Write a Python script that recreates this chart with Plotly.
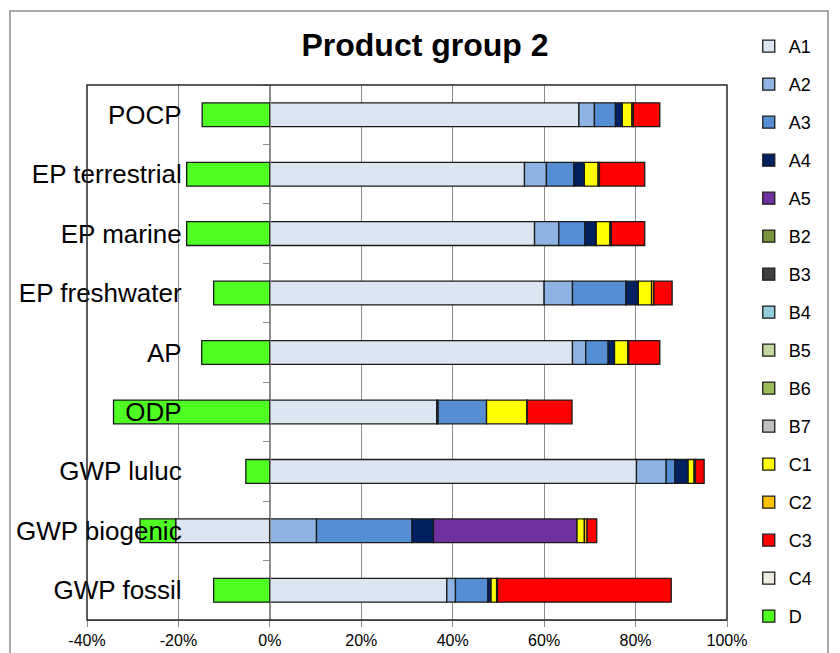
import plotly.graph_objects as go

categories = ["POCP", "EP terrestrial", "EP marine", "EP freshwater", "AP",
              "ODP", "GWP luluc", "GWP biogenic", "GWP fossil"]

A1 = [67.6, 55.7, 57.9, 60.0, 66.2, 36.5, 80.2, -20.6, 38.7]
A2 = [3.4, 4.8, 5.3, 6.2, 2.9, 0.3, 6.5, 10.2, 1.9]
A3 = [4.6, 6.0, 5.7, 11.7, 4.9, 10.6, 1.9, 20.9, 7.1]
A4 = [1.5, 2.3, 2.5, 2.7, 1.4, 0.0, 2.9, 4.7, 0.7]
A5 = [0, 0, 0, 0, 0, 0, 0, 31.4, 0]
B2 = [0, 0, 0, 0, 0, 0, 0, 0, 0]
B3 = [0, 0, 0, 0, 0, 0, 0, 0, 0]
B4 = [0, 0, 0, 0, 0, 0, 0, 0, 0]
B5 = [0, 0, 0, 0, 0, 0, 0, 0, 0]
B6 = [0, 0, 0, 0, 0, 0, 0, 0, 0]
B7 = [0, 0, 0, 0, 0, 0, 0, 0, 0]
C1 = [2.1, 3.0, 3.0, 2.9, 2.9, 8.8, 1.3, 1.6, 1.2]
C2 = [0.3, 0.3, 0.3, 0.5, 0.2, 0.1, 0.3, 0.6, 0.2]
C3 = [5.8, 9.9, 7.3, 4.0, 6.8, 9.8, 1.9, 2.1, 38.0]
C4 = [0, 0, 0, 0, 0, 0, 0, 0, 0]
D = [-14.8, -18.2, -18.2, -12.3, -14.9, -34.2, -5.25, -7.8, -12.3]

series_names = ["A1", "A2", "A3", "A4", "A5", "B2", "B3", "B4", "B5", "B6",
                "B7", "C1", "C2", "C3", "C4", "D"]
series_values = [A1, A2, A3, A4, A5, B2, B3, B4, B5, B6, B7, C1, C2, C3, C4, D]
series_colors = ["#DCE6F2", "#8EB4E3", "#558ED5", "#002060", "#7030A0",
                 "#77933C", "#404040", "#93CDDD", "#C3D69B", "#9BBB59",
                 "#BFBFBF", "#FFFF00", "#FFC000", "#FF0000", "#EEECE1",
                 "#4FFF24"]

x_tick_vals = [-40, -20, 0, 20, 40, 60, 80, 100]
x_tick_text = ["-40%", "-20%", "0%", "20%", "40%", "60%", "80%", "100%"]
x_min, x_max = -40, 100

fig = go.Figure()
for name, vals, col in zip(series_names, series_values, series_colors):
    xv = [v if v != 0 else None for v in vals]
    fig.add_trace(go.Bar(
        y=categories, x=xv, name=name, orientation="h",
        marker=dict(color=col, line=dict(color="#1a1a1a", width=1.3)),
        width=0.4, legendgroup=name,
    ))

FONT = "Liberation Sans, Arial, sans-serif"

# The page adds an 8px body margin, so the figure is laid out 8px smaller.
W, H = 832, 645
L, T = 79, 77
PW, PH = 640, 535

fig.update_layout(
    barmode="relative",
    width=W, height=H,
    margin=dict(l=L, r=W - L - PW, t=T, b=H - T - PH, autoexpand=False),
    paper_bgcolor="white", plot_bgcolor="white",
    font=dict(family=FONT, color="black"),
    title=dict(text="<b>Product group 2</b>", x=417 / W, xref="container", xanchor="center",
               y=1 - 37 / H, yanchor="middle", font=dict(size=32, family=FONT)),
    legend=dict(traceorder="grouped", x=1.034, xanchor="left", y=1.1065, yanchor="top",
                font=dict(size=18, family=FONT), tracegroupgap=11.6,
                bgcolor="rgba(0,0,0,0)", itemwidth=30, maxheight=1.0),
    xaxis=dict(range=[x_min, x_max], tickvals=x_tick_vals, ticktext=x_tick_text,
               showgrid=True, gridcolor="#8c8c8c", gridwidth=1, zeroline=False,
               showline=True, linecolor="#8c8c8c", ticks="outside", ticklen=6,
               tickcolor="#8c8c8c", tickfont=dict(size=16, family=FONT)),
    yaxis=dict(type="category", categoryorder="array", categoryarray=categories,
               autorange="reversed", anchor="free",
               position=(0 - x_min) / (x_max - x_min),
               showline=True, linecolor="#8c8c8c", ticks="outside", ticklen=7,
               tickcolor="#8c8c8c", tickson="boundaries", showgrid=False,
               ticklabelstandoff=83, tickfont=dict(size=26, family=FONT)),
    bargap=0.6,
)

# plot-area frame and outer chart border
fig.add_shape(type="rect", xref="paper", yref="paper", x0=0, x1=1, y0=0, y1=1,
              line=dict(color="#262626", width=1.5), fillcolor="rgba(0,0,0,0)", layer="above")
fig.add_shape(type="rect", xref="paper", yref="paper",
              x0=(2 - L) / PW, x1=(820 - L) / PW,
              y0=(T + PH - (H + 30)) / PH, y1=(T + PH - 3) / PH,
              line=dict(color="#8c8c8c", width=1.5), fillcolor="rgba(0,0,0,0)", layer="below")

fig.write_html("out.html")
